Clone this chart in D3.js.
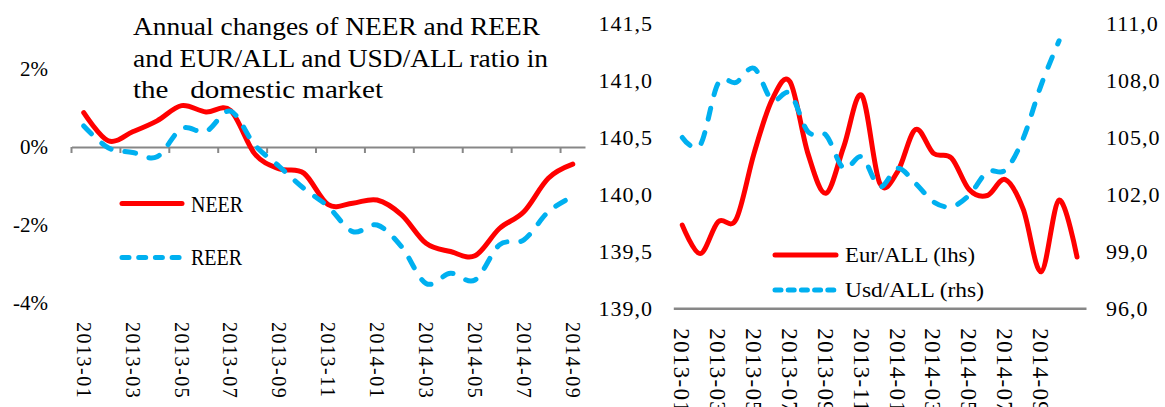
<!DOCTYPE html>
<html><head><meta charset="utf-8">
<script src="https://cdn.jsdelivr.net/npm/d3@7"></script>
<style>
html,body{margin:0;padding:0;background:#fff;}
svg{display:block;}
text{font-family:"Liberation Serif","Times New Roman",serif;fill:#000;}
</style></head><body>
<svg id="c" width="1165" height="407"></svg>
<script>
// ---- data ----
const categoriesLeft = ["2013-01","2013-02","2013-03","2013-04","2013-05","2013-06","2013-07","2013-08","2013-09","2013-10","2013-11","2013-12","2014-01","2014-02","2014-03","2014-04","2014-05","2014-06","2014-07","2014-08","2014-09"];
const neer = [0.88,0.16,0.39,0.67,1.06,0.90,0.94,-0.18,-0.56,-0.67,-1.48,-1.44,-1.36,-1.74,-2.47,-2.68,-2.79,-2.09,-1.66,-0.80,-0.44];
const reer = [0.54,-0.02,-0.14,-0.25,0.47,0.40,0.92,0.05,-0.50,-1.06,-1.53,-2.17,-2.00,-2.56,-3.50,-3.24,-3.41,-2.51,-2.38,-1.66,-1.27];
const categoriesRight = ["2013-01","2013-02","2013-03","2013-04","2013-05","2013-06","2013-07","2013-08","2013-09","2013-10","2013-11","2013-12","2014-01","2014-02","2014-03","2014-04","2014-05","2014-06","2014-07","2014-08","2014-09","2014-10","2014-11"];
const eurAll = [139.73,139.48,139.76,139.78,140.36,140.83,140.99,140.36,140.01,140.42,140.87,140.10,140.20,140.57,140.36,140.32,140.04,139.99,140.13,139.87,139.32,139.95,139.45];
const usdAll = [105.0,104.6,107.85,107.9,108.64,106.97,107.32,105.3,105.13,103.37,103.98,102.4,103.37,102.58,101.61,101.35,101.97,103.19,103.28,104.95,107.76,110.09,null];
const leftTicks = [2,0,-2,-4];
const eurTicks = [139.0,139.5,140.0,140.5,141.0,141.5];
const usdTicks = [96,99,102,105,108,111];
const xLabelsLeft = ["2013-01","2013-03","2013-05","2013-07","2013-09","2013-11","2014-01","2014-03","2014-05","2014-07","2014-09"];
const xLabelsRight = ["2013-01","2013-03","2013-05","2013-07","2013-09","2013-11","2014-01","2014-03","2014-05","2014-07","2014-09"];
const titleLines = ["Annual changes of NEER and REER","and EUR/ALL and USD/ALL ratio in","the   domestic market"];
const leftSeriesNames = ["NEER","REER"];
const rightSeriesNames = ["Eur/ALL (lhs)","Usd/ALL (rhs)"];

// ---- style ----
const RED = "#FF0000", BLUE = "#00B0F0", GRAY = "#878787";
const DASH = "11,14";
const svg = d3.select("#c");

// ================= LEFT CHART =================
const xL = d3.scaleBand().domain(categoriesLeft).range([71.5, 585]).padding(0);
const yL = d3.scaleLinear().domain([-4, 2]).range([303, 69]);
const bwL = xL.bandwidth();

// title
titleLines.forEach((t, i) => {
  svg.append("text").attr("x", 133).attr("y", [35, 66.7, 98.3][i])
    .style("font-size", "26px").style("white-space", "pre")
    .attr("textLength", [407, 415, 250][i]).attr("lengthAdjust", "spacingAndGlyphs")
    .text(t);
});

// y axis labels
const yAxL = svg.append("g").attr("transform", "translate(48,0)")
  .call(d3.axisLeft(yL).tickValues(leftTicks).tickSize(0).tickPadding(0)
    .tickFormat(d => (d < 0 ? "-" : "") + Math.abs(d) + "%"));
yAxL.select(".domain").remove();
yAxL.selectAll("text").style("font-size", "21px").style("font-family", "Liberation Serif").attr("fill", "#000").attr("dy", "0.33em");

// x axis
const xAxL = svg.append("g").attr("transform", `translate(0,${yL(0)})`)
  .call(d3.axisBottom(xL).tickValues(xLabelsLeft).tickSize(0).tickSizeOuter(0).tickPadding(0));
xAxL.select(".domain").attr("stroke", GRAY).attr("stroke-width", 2);
xAxL.selectAll("text")
  .attr("transform", "rotate(90)").attr("x", 175).attr("y", 0).attr("dy", "0.35em")
  .attr("text-anchor", "start")
  .style("font-size", "20px").style("font-family", "Liberation Serif").style("letter-spacing", "1.5px").attr("fill", "#000");
// tick marks at band boundaries
svg.append("g").selectAll("line").data(xLabelsLeft).join("line")
  .attr("x1", d => xL(d)).attr("x2", d => xL(d))
  .attr("y1", yL(0)).attr("y2", yL(0) + 6)
  .attr("stroke", GRAY).attr("stroke-width", 2);

const lineL = d3.line().x((d, i) => xL(categoriesLeft[i]) + bwL / 2).y(d => yL(d)).curve(d3.curveCardinal);
svg.append("path").datum(neer).attr("d", lineL).attr("fill", "none")
  .attr("stroke", RED).attr("stroke-width", 5).attr("stroke-linecap", "round").attr("stroke-linejoin", "round");
svg.append("path").datum(reer).attr("d", lineL).attr("fill", "none")
  .attr("stroke", BLUE).attr("stroke-width", 5).attr("stroke-dasharray", DASH).attr("stroke-linecap", "round").attr("stroke-linejoin", "round");

// left legend
svg.append("line").attr("x1", 122).attr("x2", 182).attr("y1", 203.5).attr("y2", 203.5)
  .attr("stroke", RED).attr("stroke-width", 5).attr("stroke-linecap", "round");
svg.append("text").attr("x", 191).attr("y", 212).style("font-size", "24px")
  .attr("textLength", 52).attr("lengthAdjust", "spacingAndGlyphs").text(leftSeriesNames[0]);
svg.append("line").attr("x1", 122).attr("x2", 182).attr("y1", 257.5).attr("y2", 257.5)
  .attr("stroke", BLUE).attr("stroke-width", 5).attr("stroke-linecap", "round").attr("stroke-dasharray", "7,9.7");
svg.append("text").attr("x", 191).attr("y", 265).style("font-size", "24px")
  .attr("textLength", 51).attr("lengthAdjust", "spacingAndGlyphs").text(leftSeriesNames[1]);

// ================= RIGHT CHART =================
const xR = d3.scaleBand().domain(categoriesRight).range([673.3, 1086]).padding(0);
const yR = d3.scaleLinear().domain([139, 141.5]).range([308.3, 23.5]);
const yR2 = d3.scaleLinear().domain([96, 111]).range([308.3, 23.5]);
const bwR = xR.bandwidth();
const fmtC = d => d3.format(".1f")(d).replace(".", ",");

const yAxR = svg.append("g").attr("transform", "translate(653,0)")
  .call(d3.axisLeft(yR).tickValues(eurTicks).tickSize(0).tickPadding(0).tickFormat(fmtC));
yAxR.select(".domain").remove();
yAxR.selectAll("text").style("font-size", "22px").style("font-family", "Liberation Serif").style("letter-spacing", "1px").attr("fill", "#000").attr("dy", "0.33em");

const yAxR2 = svg.append("g").attr("transform", "translate(1106,0)")
  .call(d3.axisRight(yR2).tickValues(usdTicks).tickSize(0).tickPadding(0).tickFormat(fmtC));
yAxR2.select(".domain").remove();
yAxR2.selectAll("text").style("font-size", "22px").style("font-family", "Liberation Serif").style("letter-spacing", "1px").attr("fill", "#000").attr("dy", "0.33em");

const xAxR = svg.append("g").attr("transform", `translate(0,${yR(139)})`)
  .call(d3.axisBottom(xR).tickValues(xLabelsRight).tickSize(0).tickSizeOuter(0).tickPadding(0));
xAxR.select(".domain").attr("stroke", GRAY).attr("stroke-width", 2.5);
xAxR.selectAll("text")
  .attr("transform", "rotate(90)").attr("x", 20).attr("y", 0).attr("dy", "0.35em")
  .attr("text-anchor", "start")
  .style("font-size", "23px").style("font-family", "Liberation Serif").style("letter-spacing", "1.3px").attr("fill", "#000");

const lineEur = d3.line().x((d, i) => xR(categoriesRight[i]) + bwR / 2).y(d => yR(d)).curve(d3.curveCardinal);
const lineUsd = d3.line().defined(d => d != null).x((d, i) => xR(categoriesRight[i]) + bwR / 2).y(d => yR2(d)).curve(d3.curveCardinal);
svg.append("path").datum(eurAll).attr("d", lineEur).attr("fill", "none")
  .attr("stroke", RED).attr("stroke-width", 5).attr("stroke-linecap", "round").attr("stroke-linejoin", "round");
svg.append("path").datum(usdAll).attr("d", lineUsd).attr("fill", "none")
  .attr("stroke", BLUE).attr("stroke-width", 5).attr("stroke-dasharray", DASH).attr("stroke-linecap", "round").attr("stroke-linejoin", "round");

// right legend
svg.append("line").attr("x1", 775).attr("x2", 836).attr("y1", 255).attr("y2", 255)
  .attr("stroke", RED).attr("stroke-width", 5).attr("stroke-linecap", "round");
svg.append("text").attr("x", 845).attr("y", 262).style("font-size", "22px")
  .attr("textLength", 130).attr("lengthAdjust", "spacingAndGlyphs").text(rightSeriesNames[0]);
svg.append("line").attr("x1", 775).attr("x2", 836).attr("y1", 290).attr("y2", 290)
  .attr("stroke", BLUE).attr("stroke-width", 5).attr("stroke-linecap", "round").attr("stroke-dasharray", "6,7.2");
svg.append("text").attr("x", 845).attr("y", 297).style("font-size", "22px")
  .attr("textLength", 139).attr("lengthAdjust", "spacingAndGlyphs").text(rightSeriesNames[1]);
</script></body></html>
